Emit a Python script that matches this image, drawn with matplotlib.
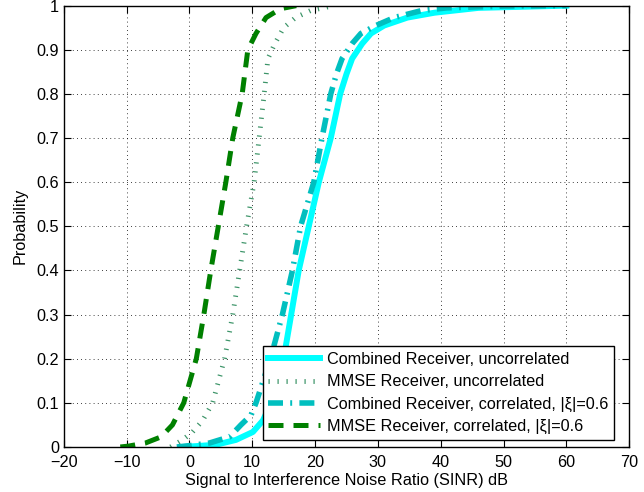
import numpy as np
import matplotlib.pyplot as plt

plt.rcParams['font.family'] = ['Liberation Sans', 'DejaVu Sans']

# curves: SINR (dB) and probability
comb_unc_x = [-1, 4.2, 7.4, 10.1, 11.7, 13.0, 15.0, 16.2, 17.4, 19.0, 20.6, 22.5, 24.0, 25.0, 25.9, 27.5, 28.9, 31.0, 34.7, 39, 46, 60]
comb_unc_y = [0, 0.005, 0.016, 0.034, 0.06, 0.1, 0.2, 0.3, 0.4, 0.5, 0.6, 0.7, 0.8, 0.845, 0.88, 0.914, 0.937, 0.955, 0.973, 0.984, 0.995, 1.0]

mmse_unc_x = [-3, -1.1, 0.5, 2.1, 3.7, 5.6, 6.9, 8.0, 9.1, 10.3, 11.1, 11.9, 12.5, 13.6, 15.0, 16.9, 19.3, 23]
mmse_unc_y = [0, 0.016, 0.034, 0.06, 0.1, 0.2, 0.3, 0.4, 0.5, 0.6, 0.7, 0.8, 0.88, 0.914, 0.95, 0.973, 0.989, 1.0]

comb_cor_x = [-2, 0, 3.2, 6.4, 8.2, 9.8, 10.6, 12.9, 14.8, 16.4, 17.7, 19.8, 21.1, 22.5, 23.4, 24.3, 25.9, 27.3, 29.7, 32.6, 37, 41, 50, 60]
comb_cor_y = [0, 0.003, 0.009, 0.023, 0.05, 0.072, 0.1, 0.2, 0.3, 0.4, 0.5, 0.6, 0.7, 0.8, 0.845, 0.88, 0.914, 0.937, 0.955, 0.973, 0.989, 0.995, 0.999, 1.0]

mmse_cor_x = [-11, -9.7, -7, -4.5, -2.7, -0.9, 1.1, 2.3, 3.4, 4.6, 5.8, 6.9, 8.4, 9.3, 10.6, 12.2, 14.5, 17]
mmse_cor_y = [0, 0.002, 0.009, 0.023, 0.05, 0.1, 0.2, 0.3, 0.4, 0.5, 0.6, 0.7, 0.8, 0.9, 0.937, 0.973, 0.993, 1.0]

labels = ['Combined Receiver, uncorrelated',
          'MMSE Receiver, uncorrelated',
          'Combined Receiver, correlated, |\u03be|=0.6',
          'MMSE Receiver, correlated, |\u03be|=0.6']

fig = plt.figure(figsize=(6.44, 4.92), dpi=100)
ax = fig.add_axes([0.099, 0.0915, 0.878, 0.897])

ax.plot(comb_unc_x, comb_unc_y, color='#00ffff', lw=4.3, label=labels[0])
ax.plot(mmse_unc_x, mmse_unc_y, color='#3c9468', lw=3.5,
        linestyle=(0, (0.25, 1.6)), dash_capstyle='butt', label=labels[1])
ax.plot(comb_cor_x, comb_cor_y, color='#00bfbf', lw=4.0,
        linestyle=(0, (2.7, 1.3, 0.35, 1.3)), dash_capstyle='butt', label=labels[2])
ax.plot(mmse_cor_x, mmse_cor_y, color='#008000', lw=3.6,
        linestyle=(0, (3, 2)), dash_capstyle='butt', label=labels[3])

ax.set_xlim(-20, 70)
ax.set_ylim(0, 1)
ax.set_xticks(np.arange(-20, 71, 10))
ax.set_yticks(np.arange(0, 1.01, 0.1))
ax.set_yticklabels(['0', '0.1', '0.2', '0.3', '0.4', '0.5', '0.6', '0.7', '0.8', '0.9', '1'])
ax.tick_params(direction='in', top=True, right=True, labelsize=11.7, length=5, width=0.8)
ax.tick_params(axis='x', pad=6)
ax.grid(True, linestyle=(0, (1, 4)), color='black', lw=0.6)
for s in ax.spines.values():
    s.set_linewidth(1.0)

ax.set_xlabel('Signal to Interference Noise Ratio (SINR) dB', fontsize=11.7, labelpad=2)
ax.set_ylabel('Probability', fontsize=11.7, labelpad=6)

leg = ax.legend(loc='lower right', bbox_to_anchor=(0.973, 0.016), borderaxespad=0,
                fontsize=11.7, handlelength=3.2,
                fancybox=False, framealpha=1, edgecolor='black', borderpad=0.35,
                labelspacing=0.45, handletextpad=0.4)
leg.get_frame().set_linewidth(1.0)

fig.savefig('out.png', dpi=100)
